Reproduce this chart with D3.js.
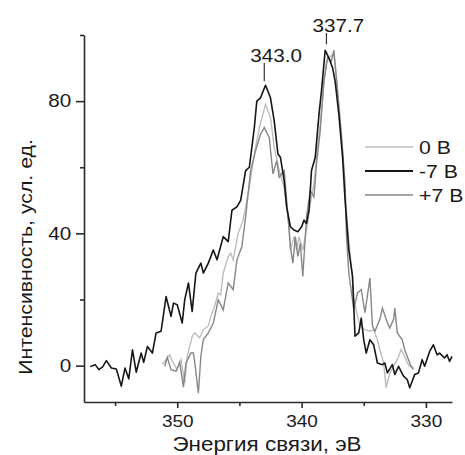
<!DOCTYPE html>
<html>
<head>
<meta charset="utf-8">
<script src="https://cdn.jsdelivr.net/npm/d3@7"></script>
<style>
    body { margin: 0; background: #fff; }
    text { font-family: "Liberation Sans", Arial, sans-serif; fill: #1a1a1a; }
</style>
</head>
<body>
<div id="spectrum"></div>
<script>
const seriesM7 = [
    [357.0, -0.3], [356.6, 0.3], [356.3, -1.2], [356.0, -0.4], [355.7, 1.5], [355.3, -0.7],
    [354.9, -1.0], [354.5, -6.2], [354.2, -0.7], [353.9, -4.0], [353.6, 4.8], [353.3, -2.0],
    [352.9, 3.8], [352.7, 1.0], [352.4, 5.8], [352.0, 3.8], [351.7, 9.9], [351.3, 10.4],
    [350.9, 20.9], [350.5, 14.9], [350.3, 18.9], [350.0, 18.4], [349.6, 12.9], [349.4, 19.9],
    [349.1, 25.0], [348.8, 16.4], [348.5, 28], [348.1, 31], [347.9, 28], [347.5, 31],
    [347.1, 35], [346.8, 32], [346.3, 39], [345.9, 37.5], [345.6, 47], [345.2, 48],
    [344.9, 50], [344.5, 59], [344.2, 60], [343.8, 72], [343.6, 80], [343.3, 81],
    [342.9, 84.8], [342.5, 81], [342.2, 74], [341.9, 64], [341.7, 63], [341.4, 56],
    [341.2, 48], [340.9, 42], [340.6, 41], [340.3, 40.5], [340.0, 42], [339.8, 44],
    [339.6, 43], [339.4, 47], [339.2, 59], [338.9, 63], [338.6, 76], [338.4, 83],
    [338.1, 95.4], [337.8, 93], [337.5, 90], [337.3, 86], [337.0, 76], [336.7, 63],
    [336.5, 50], [336.2, 35], [335.9, 27], [335.7, 8.9], [335.4, 9.9], [335.2, 14.4],
    [335.0, 7.8], [334.8, 3.8], [334.5, 7.8], [334.2, 6.3], [333.9, 0.8], [333.5, 0.3],
    [333.3, 0.8], [333.1, -2.2], [332.7, 0.3], [332.5, -2.7], [332.2, -0.2], [331.8, -3.2],
    [331.5, -4.2], [331.3, -6.7], [330.9, -2.7], [330.6, -2.2], [330.3, 1.8], [330.1, -0.2],
    [329.7, 4.3], [329.4, 6.3], [329.1, 3.3], [328.9, 3.8], [328.5, 2.3], [328.3, 3.3],
    [328.1, 1.3], [327.9, 2.8]
];
const series0 = [
    [351.2, 0.3], [350.6, 3.3], [350.4, 1.3], [350.0, -1.2], [349.7, 1.8], [349.4, -5.2],
    [349.2, 2.8], [348.8, 8.8], [348.6, 9.9], [348.2, 8.4], [347.9, 10.9], [347.5, 12],
    [347.3, 14.9], [347.0, 17.9], [346.7, 21.9], [346.5, 21.4], [346.3, 28], [345.9, 33],
    [345.7, 34], [345.5, 32], [345.1, 40], [344.7, 44], [344.2, 54], [343.8, 64],
    [343.4, 72], [342.9, 79], [342.5, 75], [342.2, 66], [341.8, 59], [341.4, 54],
    [341.0, 42], [340.9, 35], [340.6, 39], [340.4, 35], [340.2, 39], [339.9, 35],
    [339.6, 41], [339.3, 49], [339.0, 55], [338.8, 63], [338.5, 73], [338.2, 86],
    [338.0, 92], [337.7, 93.4], [337.4, 94.4], [337.2, 87], [337.0, 78], [336.7, 65],
    [336.5, 52], [336.2, 38], [335.9, 26], [335.8, 20], [335.5, 15], [335.3, 12],
    [334.9, 10.9], [334.5, 10.4], [334.2, 10.9], [333.9, 7.8], [333.7, 4.8], [333.4, 0.8],
    [333.2, -6.7], [332.9, -2.2], [332.6, -0.2], [332.3, 1.8], [332.0, 4.8], [331.7, 2.8],
    [331.5, 0.8], [331.3, -0.2], [331.0, -0.5]
];
const seriesP7 = [
    [351.0, -0.2], [350.8, 2.5], [350.5, -1.2], [350.1, -1.7], [349.8, 1.0], [349.5, -6.5],
    [349.3, 0.8], [348.9, 3.8], [348.7, 3.8], [348.6, 1.3], [348.3, -8.3], [348.1, 2.8],
    [347.9, 7.9], [347.5, 9.9], [347.1, 12.9], [346.7, 19.9], [346.3, 16.9], [346.0, 23],
    [345.9, 25], [345.5, 23], [345.2, 32], [344.8, 36], [344.5, 45], [344.1, 59],
    [343.7, 65], [343.3, 70], [343.0, 72], [342.6, 69], [342.3, 58], [342.0, 62],
    [341.8, 57], [341.4, 59], [341.2, 50], [340.9, 36], [340.7, 31], [340.5, 39],
    [340.3, 33], [340.1, 37], [339.9, 27], [339.6, 45], [339.3, 53], [339.0, 51],
    [338.8, 61], [338.5, 71], [338.2, 86], [337.9, 93.4], [337.6, 92], [337.4, 95.4],
    [337.1, 83], [336.8, 70], [336.5, 55], [336.4, 40], [336.2, 28], [335.8, 17],
    [335.5, 22], [335.2, 23], [334.9, 16], [334.5, 26.5], [334.3, 12], [334.1, 10.4],
    [333.7, 14], [333.5, 17.4], [333.1, 13], [332.9, 11.4], [332.6, 14], [332.5, 17.4],
    [332.3, 9.9], [331.9, 7.8], [331.7, 4.8], [331.4, 1.8], [331.2, -0.2], [331.0, -1.2]
];

const legendLabels = ["0 B", "-7 B", "+7 B"];
const xMajorTicks = [350, 340, 330];
const xMinorTicks = [355, 345, 335];
const yMajorTicks = [0, 40, 80];
const yMinorTicks = [20, 60, 100];
const peakLabels = ["343.0", "337.7"];
const peakPositions = [343.0, 338.0];
const peakLineFrom = [86, 97.2];
const peakLineTo = [91.5, 100.6];

const drawSpectrum = () => {
    const width = 465;
    const height = 455;
    const margin = {top: 35, right: 13, bottom: 53, left: 84};
    // Die Schrift im Original ist etwas breiter gezogen
    const stretch = "scale(1.15, 1)";

    const svg = d3.select("#spectrum")
        .append("svg")
        .attr("width", width)
        .attr("height", height);

    // Skalen: Energieachse läuft rückwärts (hohe Werte links)
    const xScale = d3.scaleLinear()
        .domain([357.5, 327.9])
        .range([margin.left, width - margin.right]);
    const yScale = d3.scaleLinear()
        .domain([-11, 100])
        .range([height - margin.bottom, margin.top]);

    const axisColor = "#2a2a2a";

    // X-Achse: große und kleine Ticks getrennt
    svg.append("g")
        .attr("transform", `translate(0, ${height - margin.bottom})`)
        .call(d3.axisBottom(xScale).tickValues(xMinorTicks).tickSize(4).tickSizeOuter(0).tickFormat(""))
        .call(g => g.select(".domain").remove());
    svg.append("g")
        .attr("transform", `translate(0, ${height - margin.bottom})`)
        .call(d3.axisBottom(xScale).tickValues(xMajorTicks).tickSize(6).tickSizeOuter(0).tickPadding(7))
        .call(g => g.selectAll("text")
            .attr("font-size", 16.5)
            .attr("transform", stretch)
            .attr("fill", "#1a1a1a"));

    // Y-Achse
    svg.append("g")
        .attr("transform", `translate(${margin.left}, 0)`)
        .call(d3.axisLeft(yScale).tickValues(yMinorTicks).tickSize(4).tickSizeOuter(0).tickFormat(""))
        .call(g => g.select(".domain").remove());
    svg.append("g")
        .attr("transform", `translate(${margin.left}, 0)`)
        .call(d3.axisLeft(yScale).tickValues(yMajorTicks).tickSize(8).tickSizeOuter(0).tickPadding(3))
        .call(g => g.selectAll("text")
            .attr("font-size", 18)
            .attr("transform", stretch)
            .attr("fill", "#1a1a1a"));

    svg.selectAll(".domain, .tick line")
        .attr("stroke", axisColor)
        .attr("stroke-width", 1.6);
    svg.selectAll(".tick text").attr("font-family", "Liberation Sans, Arial, sans-serif");

    // Achsentitel
    svg.append("text")
        .text("Энергия связи, эВ")
        .attr("transform", `translate(267, 451) ${stretch}`)
        .attr("text-anchor", "middle")
        .attr("font-size", 19.5);
    svg.append("text")
        .text("Интенсивность, усл. ед.")
        .attr("transform", `translate(32, 257) rotate(-90) ${stretch}`)
        .attr("text-anchor", "middle")
        .attr("font-size", 18.5);

    // Kurven
    const lineGenerator = d3.line()
        .x(d => xScale(d[0]))
        .y(d => yScale(d[1]));

    const lightGray = "#bdbdbd";
    const midGray = "#878787";
    const black = "#161616";

    svg.append("path").attr("d", lineGenerator(series0))
        .attr("fill", "none").attr("stroke", lightGray).attr("stroke-width", 1.4);
    svg.append("path").attr("d", lineGenerator(seriesP7))
        .attr("fill", "none").attr("stroke", midGray).attr("stroke-width", 1.4);
    svg.append("path").attr("d", lineGenerator(seriesM7))
        .attr("fill", "none").attr("stroke", black).attr("stroke-width", 1.6)
        .attr("stroke-linejoin", "round");

    // Peak-Markierungen
    peakLabels.forEach((label, i) => {
        const px = xScale(peakPositions[i]);
        svg.append("line")
            .attr("x1", px).attr("x2", px)
            .attr("y1", yScale(peakLineFrom[i]))
            .attr("y2", yScale(peakLineTo[i]))
            .attr("stroke", "#333").attr("stroke-width", 1.2);
        svg.append("text")
            .text(label)
            .attr("transform", `translate(${px - 14}, ${yScale(peakLineTo[i]) - 1}) ${stretch}`)
            .attr("font-size", 18);
    });

    // Legende
    const legendColors = [lightGray, black, midGray];
    const legendWidths = [1.4, 2, 1.4];
    const legend = svg.append("g").attr("transform", "translate(365, 147)");
    legendLabels.forEach((label, i) => {
        const row = legend.append("g").attr("transform", `translate(0, ${i * 24})`);
        row.append("line")
            .attr("x1", 0).attr("x2", 48)
            .attr("stroke", legendColors[i])
            .attr("stroke-width", legendWidths[i]);
        row.append("text")
            .text(label)
            .attr("transform", `translate(54, 6.5) ${stretch}`)
            .attr("font-size", 18.5);
    });
};

drawSpectrum();
</script>
</body>
</html>
